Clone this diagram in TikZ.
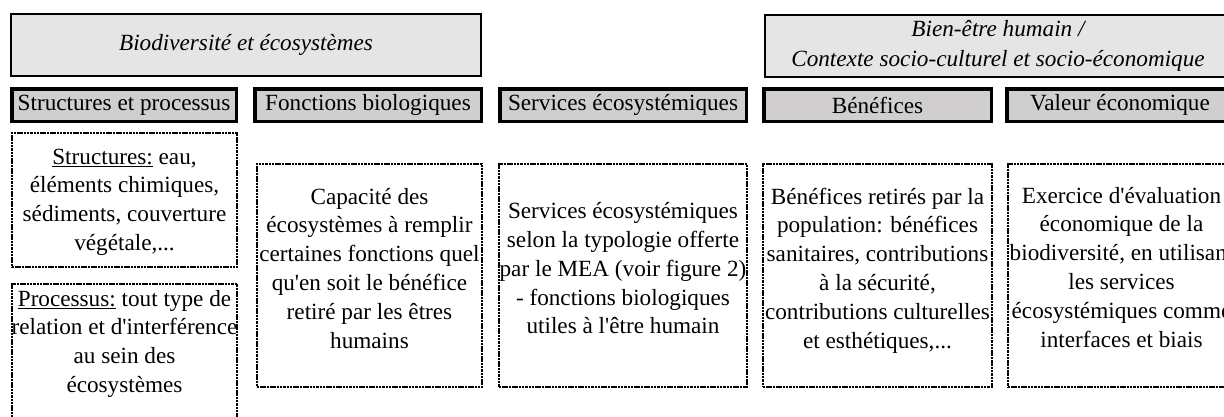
\documentclass[tikz,border=0pt]{standalone}
\usepackage{fontspec}
\setmainfont{Liberation Serif}[Ligatures=TeXOff]
\definecolor{topfill}{RGB}{229,229,229}
\definecolor{hdrfill}{RGB}{208,206,206}
\newcommand\bodyfnt{\fontsize{23.2}{28.8}\selectfont}
\newcommand\topfnt{\fontsize{23.2}{30}\selectfont\itshape}
\begin{document}
\begin{tikzpicture}[x=1pt,y=-1pt,
  topbox/.style={draw=black, line width=2pt, fill=topfill, inner sep=0pt, align=center, font=\topfnt},
  hdrbox/.style={draw=black, line width=3.5pt, fill=hdrfill, inner sep=0pt, font=\bodyfnt, minimum height=32.5pt},
  dbox/.style={draw=black, line width=1.8pt, dash pattern=on 2.5pt off 0.8pt, inner sep=0pt},
  btext/.style={anchor=north, inner sep=0pt, align=center, font=\bodyfnt}]
\useasboundingbox (0,0) rectangle (1224,416);
\clip (0,0) rectangle (1224,416);
% top boxes
\node[topbox, minimum width=470pt, minimum height=62pt] (t1) at (246,45) {Biodiversité et écosystèmes};
\node[topbox, minimum width=466pt, minimum height=62pt] (t2) at (998,46) {Bien-être humain /\\Contexte socio-culturel et socio-économique};
% headers
\node[hdrbox, minimum width=224.5pt] (h1) at (124,105) {Structures et processus};
\node[hdrbox, minimum width=226.5pt] (h2) at (368,105) {Fonctions biologiques};
\node[hdrbox, minimum width=246.5pt] (h3) at (623,105) {Services écosystémiques};
\node[hdrbox, minimum width=227.5pt] (h4) at (877.5,105) {Bénéfices};
\node[hdrbox, minimum width=226.5pt] (h5) at (1120,105) {Valeur économique};
% dashed boxes
\node[dbox, minimum width=225.4pt, minimum height=134.4pt] (bA) at (124.5,200) {};
\node[dbox, minimum width=225.4pt, minimum height=137.4pt] (bB) at (124.5,352.5) {};
\node[dbox, minimum width=225.4pt, minimum height=223.4pt] (bC) at (369.5,275.5) {};
\node[dbox, minimum width=248.4pt, minimum height=223.4pt] (bD) at (623,275.5) {};
\node[dbox, minimum width=229.4pt, minimum height=223.4pt] (bE) at (877.5,275.5) {};
\node[dbox, minimum width=227.4pt, minimum height=223.4pt] (bF) at (1121.5,275.5) {};
% texts
\node[btext] (xA) at (124.5,143.8) {\strut\underline{Structures:} eau,\\éléments chimiques,\\sédiments, couverture\\végétale,...};
\node[btext] (xB) at (124.5,285.8) {\strut\underline{Processus:} tout type de\\relation et d'interférence\\au sein des\\écosystèmes};
\node[btext] (xC) at (369.5,183.8) {\strut Capacité des\\écosystèmes à remplir\\certaines fonctions quel\\qu'en soit le bénéfice\\retiré par les êtres\\humains};
\node[btext] (xD) at (623,198.3) {\strut Services écosystémiques\\selon la typologie offerte\\par le MEA (voir figure 2)\\- fonctions biologiques\\utiles à l'être humain};
\node[btext] (xE) at (877.5,183.8) {\strut Bénéfices retirés par la\\population: bénéfices\\sanitaires, contributions\\à la sécurité,\\contributions culturelles\\et esthétiques,...};
\node[btext] (xF) at (1121.5,182.8) {\strut Exercice d'évaluation\\économique de la\\biodiversité, en utilisant\\les services\\écosystémiques comme\\interfaces et biais};
\end{tikzpicture}
\end{document}
